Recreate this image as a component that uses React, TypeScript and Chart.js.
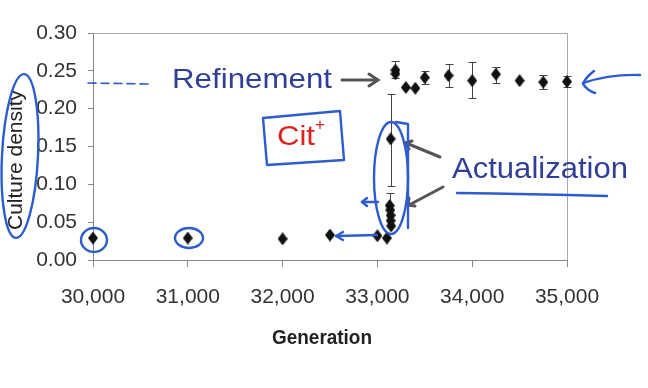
import React, { useEffect, useRef } from "react";
import { Chart, registerables } from "chart.js";

Chart.register(...registerables);

// ---- Data ----
const generations = [30000, 31000, 32000, 32500, 33000, 33100, 33130, 33135, 33140, 33140, 33145, 33140, 33190, 33190, 33300, 33400, 33500, 33750, 34000, 34250, 34500, 34750, 35000];
const density = [0.029, 0.029, 0.028, 0.033, 0.032, 0.029, 0.072, 0.066, 0.059, 0.052, 0.045, 0.16, 0.251, 0.246, 0.228, 0.227, 0.241, 0.2437, 0.237, 0.2455, 0.237, 0.235, 0.2357];
const errLow: (number | null)[] = [null, null, null, null, null, null, null, null, null, null, null, 0.098, 0.24, null, null, null, 0.232, 0.228, 0.2146, 0.2344, null, 0.226, 0.2283];
const errHigh: (number | null)[] = [null, null, null, null, null, null, 0.0885, null, null, null, null, 0.22, 0.263, null, null, null, 0.25, 0.259, 0.262, 0.2555, null, 0.2445, 0.2433];

const xTicks = [30000, 31000, 32000, 33000, 34000, 35000];
const yTicks = [0, 0.05, 0.1, 0.15, 0.2, 0.25, 0.3];

const SANS = "'Liberation Sans', Arial, sans-serif";
const BLUE_TXT = "#2f3f98";
const BLUE_PEN = "#2d5ccf";

function makeDiamond(): HTMLCanvasElement {
  const c = document.createElement("canvas");
  c.width = 10;
  c.height = 13;
  const g = c.getContext("2d")!;
  g.fillStyle = "#111";
  g.beginPath();
  g.moveTo(5, 0);
  g.lineTo(10, 6.5);
  g.lineTo(5, 13);
  g.lineTo(0, 6.5);
  g.closePath();
  g.fill();
  return c;
}

function fitText(ctx: CanvasRenderingContext2D, text: string, x: number, y: number, font: string, color: string, width: number, align: "left" | "center" = "left") {
  ctx.save();
  ctx.font = font;
  ctx.fillStyle = color;
  ctx.textAlign = align;
  ctx.textBaseline = "alphabetic";
  const w = ctx.measureText(text).width;
  ctx.translate(x, y);
  ctx.scale(width / w, 1);
  ctx.fillText(text, 0, 0);
  ctx.restore();
}

function line(ctx: CanvasRenderingContext2D, pts: number[][]) {
  ctx.beginPath();
  ctx.moveTo(pts[0][0], pts[0][1]);
  for (let i = 1; i < pts.length; i++) ctx.lineTo(pts[i][0], pts[i][1]);
  ctx.stroke();
}

const decorPlugin = {
  id: "decor",
  beforeDatasetsDraw(chart: any) {
    const ctx: CanvasRenderingContext2D = chart.ctx;
    const { chartArea } = chart;
    const xs = chart.scales.x;
    const ys = chart.scales.y;

    // plot frame top/right
    ctx.save();
    ctx.strokeStyle = "#aaa";
    ctx.lineWidth = 1;
    line(ctx, [[chartArea.left, chartArea.top + 0.5], [chartArea.right + 0.5, chartArea.top + 0.5], [chartArea.right + 0.5, chartArea.bottom]]);
    ctx.restore();

    // error bars
    ctx.save();
    ctx.strokeStyle = "#444";
    ctx.lineWidth = 1;
    generations.forEach((g, i) => {
      const px = Math.round(xs.getPixelForValue(g)) + 0.5;
      const py = ys.getPixelForValue(density[i]);
      const lo = errLow[i];
      const hi = errHigh[i];
      if (hi != null) {
        const ph = Math.round(ys.getPixelForValue(hi)) + 0.5;
        line(ctx, [[px, py], [px, ph]]);
        line(ctx, [[px - 4, ph], [px + 4, ph]]);
      }
      if (lo != null) {
        const pl = Math.round(ys.getPixelForValue(lo)) + 0.5;
        line(ctx, [[px, py], [px, pl]]);
        line(ctx, [[px - 4, pl], [px + 4, pl]]);
      }
    });
    ctx.restore();
  },
  afterDatasetsDraw(chart: any) {
    const ctx: CanvasRenderingContext2D = chart.ctx;
    const { chartArea } = chart;

    // axis titles
    fitText(ctx, "Generation", (chartArea.left + chartArea.right) / 2 - 8, 344, `bold 21px ${SANS}`, "#222", 100, "center");
    ctx.save();
    ctx.fillStyle = "#222";
    ctx.textAlign = "center";
    ctx.textBaseline = "alphabetic";
    ctx.translate(22, 160);
    ctx.rotate(-Math.PI / 2);
    ctx.font = `21px ${SANS}`;
    ctx.fillText("Culture density", 0, 0);
    ctx.restore();

    // annotation texts
    fitText(ctx, "Refinement", 172, 88, `28px ${SANS}`, BLUE_TXT, 160);
    fitText(ctx, "Actualization", 452, 178, `29px ${SANS}`, BLUE_TXT, 176);
    fitText(ctx, "Cit", 277, 145, `28px ${SANS}`, "#e0201c", 38);
    fitText(ctx, "+", 315, 130, `17px ${SANS}`, "#e0201c", 10);

    // gray arrows
    ctx.save();
    ctx.strokeStyle = "#555";
    ctx.lineWidth = 3;
    ctx.lineCap = "round";
    line(ctx, [[342, 80], [377, 80]]);
    line(ctx, [[369, 74], [378, 80], [369, 86]]);
    line(ctx, [[440, 157], [406, 143]]);
    line(ctx, [[412, 141], [405, 143], [409, 149]]);
    line(ctx, [[443, 187], [409, 205]]);
    line(ctx, [[409, 198], [408, 205], [415, 206]]);
    ctx.restore();

    // blue pen strokes
    ctx.save();
    ctx.strokeStyle = BLUE_PEN;
    ctx.lineCap = "round";
    ctx.lineJoin = "round";
    ctx.setLineDash([8, 5]);
    ctx.lineWidth = 1.6;
    line(ctx, [[88, 83], [150, 84]]);
    ctx.setLineDash([]);
    ctx.lineWidth = 2.4;
    ctx.beginPath();
    ctx.moveTo(640, 75);
    ctx.quadraticCurveTo(610, 74, 583, 83);
    ctx.stroke();
    ctx.beginPath();
    ctx.moveTo(594, 71);
    ctx.quadraticCurveTo(585, 78, 583, 84);
    ctx.quadraticCurveTo(588, 91, 595, 93);
    ctx.stroke();
    ctx.beginPath();
    ctx.ellipse(94, 240, 13, 12, 0, 0, Math.PI * 2);
    ctx.stroke();
    ctx.beginPath();
    ctx.ellipse(189, 238, 14, 10, 0, 0, Math.PI * 2);
    ctx.stroke();
    line(ctx, [[377, 235], [336, 236]]);
    line(ctx, [[343, 232], [336, 236], [343, 240]]);
    ctx.beginPath();
    ctx.ellipse(391, 178, 17, 56, 0, 0, Math.PI * 2);
    ctx.stroke();
    line(ctx, [[396, 122], [408, 124], [408, 228]]);
    line(ctx, [[378, 202], [362, 202]]);
    line(ctx, [[367, 198], [362, 202], [367, 206]]);
    ctx.beginPath();
    ctx.moveTo(457, 193);
    ctx.quadraticCurveTo(530, 194, 607, 196);
    ctx.stroke();
    ctx.beginPath();
    ctx.moveTo(263, 118);
    ctx.lineTo(340, 111);
    ctx.lineTo(344, 160);
    ctx.lineTo(267, 165);
    ctx.closePath();
    ctx.stroke();
    ctx.beginPath();
    ctx.ellipse(20, 156, 18, 82, 0.05, 0, Math.PI * 2);
    ctx.stroke();
    ctx.restore();
  },
};

export default function App() {
  const canvasRef = useRef<HTMLCanvasElement | null>(null);

  useEffect(() => {
    document.body.style.margin = "0";
    const canvas = canvasRef.current!;
    const diamond = makeDiamond();
    const chart = new Chart(canvas, {
      type: "scatter",
      data: {
        datasets: [
          {
            data: generations.map((g, i) => ({ x: g, y: density[i] })),
            pointStyle: diamond as any,
            pointRadius: 6,
            backgroundColor: "#111",
            borderColor: "#111",
            showLine: false,
            clip: false as any,
          },
        ],
      },
      options: {
        responsive: false,
        animation: false,
        events: [],
        layout: { padding: { left: 0, right: 81, top: 33, bottom: 0 } },
        plugins: { legend: { display: false }, tooltip: { enabled: false } },
        scales: {
          x: {
            type: "linear",
            min: 30000,
            max: 35000,
            afterBuildTicks: (s: any) => {
              s.ticks = xTicks.map((v) => ({ value: v }));
            },
            afterFit: (s: any) => {
              s.height = 128;
            },
            ticks: {
              font: { family: SANS, size: 21 },
              color: "#333",
              padding: 18,
              maxRotation: 0,
              callback: (v: any) => Number(v).toLocaleString("en-US"),
            },
            grid: { drawOnChartArea: false, drawTicks: true, tickLength: 7, color: "#888" },
            border: { display: true, color: "#888" },
          },
          y: {
            min: 0,
            max: 0.3,
            afterBuildTicks: (s: any) => {
              s.ticks = yTicks.map((v) => ({ value: v }));
            },
            afterFit: (s: any) => {
              s.width = 93;
            },
            ticks: {
              font: { family: SANS, size: 21 },
              color: "#333",
              padding: 11,
              callback: (v: any) => Number(v).toFixed(2),
            },
            grid: { drawOnChartArea: false, drawTicks: true, tickLength: 5, color: "#888" },
            border: { display: true, color: "#888" },
          },
        },
      },
      plugins: [decorPlugin],
    });
    return () => chart.destroy();
  }, []);

  return (
    <div style={{ width: 648, height: 388, position: "relative", background: "#fff" }}>
      <canvas ref={canvasRef} width={648} height={388} style={{ display: "block" }} />
    </div>
  );
}
